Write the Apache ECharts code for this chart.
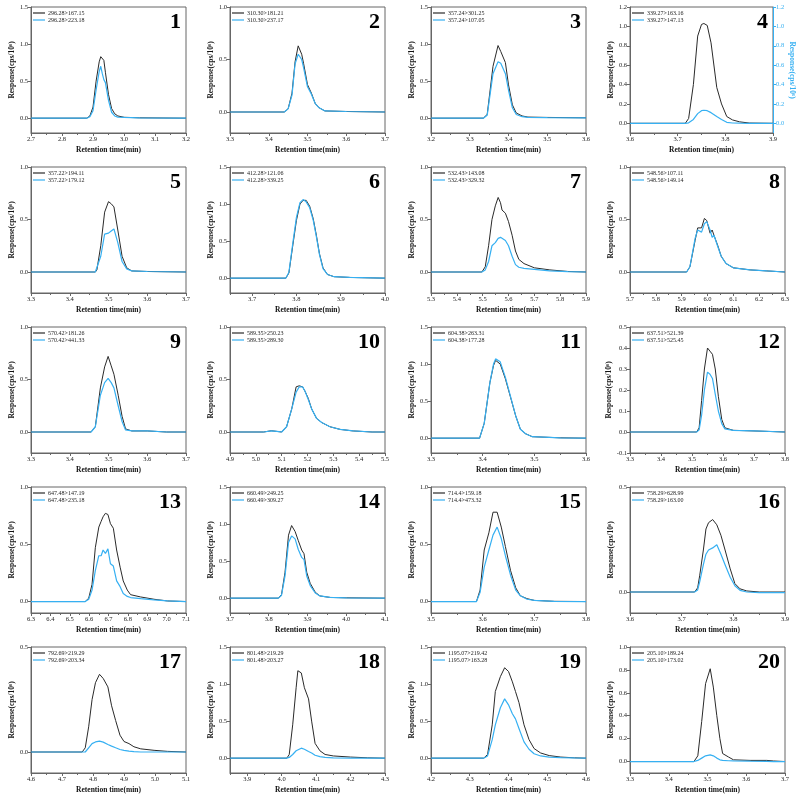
<!DOCTYPE html>
<html>
<head>
<meta charset="utf-8">
<script src="https://cdn.jsdelivr.net/npm/echarts@6/dist/echarts.min.js"></script>
<style>html,body{margin:0;background:#fff}#main{width:799px;height:799px}</style>
</head>
<body>
<div id="main"></div>
<script>
// MRM transitions (legend text) for each of the 20 compounds
var ionNamesA = ['296.28>167.15','310.30>181.21','357.24>301.25','339.27>163.16','357.22>194.11','412.28>121.06','532.43>143.08','548.56>107.11','570.42>181.26','589.35>250.23','604.38>263.31','637.51>521.39','647.48>147.19','660.49>249.25','714.4>159.18','758.29>628.99','792.69>219.29','801.48>219.29','1195.07>219.42','205.10>189.24'];
var ionNamesB = ['296.28>223.18','310.30>237.17','357.24>107.05','339.27>147.13','357.22>179.12','412.28>339.25','532.43>329.32','548.56>149.14','570.42>441.33','589.35>289.30','604.38>177.28','637.51>525.45','647.48>235.18','660.49>309.27','714.4>473.32','758.29>163.00','792.69>203.34','801.48>203.27','1195.07>163.28','205.10>173.02'];

// axis ranges
var xMins = [2.7,3.3,3.2,3.6,3.3,3.65,5.3,5.7,3.3,4.9,3.3,3.3,6.3,3.7,3.5,3.6,4.6,3.85,4.2,3.3];
var xMaxs = [3.2,3.7,3.6,3.9,3.7,4.0,5.9,6.3,3.7,5.5,3.6,3.8,7.1,4.1,3.8,3.9,5.1,4.3,4.6,3.7];
var yMins = [-0.2,-0.2,-0.2,-0.1,-0.2,-0.2,-0.2,-0.2,-0.2,-0.2,-0.2,-0.1,-0.1,-0.2,-0.1,-0.1,-0.1,-0.2,-0.2,-0.1];
var yMaxs = [1.5,1.0,1.5,1.2,1.0,1.5,1.0,1.0,1.0,1.0,1.5,0.5,1.0,1.5,1.0,0.5,0.5,1.5,1.5,1.0];
var ySteps = [0.5,0.5,0.5,0.2,0.5,0.5,0.5,0.5,0.5,0.5,0.5,0.1,0.5,0.5,0.5,0.5,0.5,0.5,0.5,0.2];

// chromatograms: time (min), ion A response, ion B response (cps/10^6)
var t1 = [2.70,2.88,2.89,2.90,2.91,2.92,2.925,2.93,2.935,2.94,2.95,2.96,2.97,2.98,3.00,3.05,3.20];
var a1 = [0,0,0.03,0.15,0.5,0.76,0.83,0.84,0.78,0.62,0.32,0.13,0.06,0.03,0.012,0.005,0];
var b1 = [0,0,0.02,0.1,0.38,0.63,0.70,0.60,0.52,0.48,0.24,0.08,0.03,0.015,0.01,0.005,0];

var t2 = [3.30,3.44,3.45,3.46,3.468,3.476,3.485,3.49,3.50,3.51,3.52,3.53,3.545,3.60,3.70];
var a2 = [0,0,0.03,0.18,0.48,0.63,0.55,0.46,0.26,0.18,0.08,0.04,0.01,0.005,0];
var b2 = [0,0,0.03,0.16,0.46,0.55,0.5,0.42,0.24,0.17,0.08,0.04,0.01,0.005,0];

var t3 = [3.20,3.335,3.345,3.36,3.373,3.38,3.392,3.40,3.41,3.42,3.435,3.45,3.50,3.60];
var a3 = [0,0,0.05,0.7,0.98,0.9,0.75,0.45,0.18,0.07,0.03,0.015,0.01,0.005];
var b3 = [0,0,0.04,0.6,0.76,0.74,0.6,0.38,0.14,0.05,0.02,0.01,0.008,0.005];

var t4 = [3.60,3.716,3.723,3.733,3.742,3.75,3.755,3.762,3.77,3.782,3.792,3.803,3.815,3.83,3.85,3.90];
var a4 = [0,0,0.05,0.4,0.9,1.02,1.03,1.01,0.83,0.37,0.2,0.07,0.035,0.015,0.003,0];
var b4 = [0,0,0.005,0.04,0.1,0.13,0.135,0.13,0.11,0.07,0.04,0.01,0.003,0.001,0,0];

var t5 = [3.30,3.466,3.47,3.48,3.49,3.50,3.507,3.514,3.524,3.535,3.547,3.56,3.60,3.70];
var a5 = [0,0,0.02,0.25,0.57,0.67,0.65,0.62,0.4,0.15,0.04,0.01,0.005,0];
var b5 = [0,0,0.01,0.15,0.36,0.37,0.39,0.41,0.28,0.1,0.03,0.01,0.005,0];

var t6 = [3.65,3.776,3.783,3.792,3.80,3.808,3.815,3.822,3.83,3.838,3.845,3.852,3.86,3.87,3.885,3.92,4.0];
var a6 = [0,0,0.07,0.45,0.78,1.0,1.05,1.05,0.97,0.8,0.58,0.33,0.14,0.05,0.02,0.01,0];
var b6 = [0,0,0.08,0.48,0.82,1.02,1.06,1.03,0.95,0.78,0.56,0.32,0.13,0.05,0.02,0.01,0];

var t7 = [5.30,5.497,5.51,5.523,5.536,5.549,5.56,5.569,5.575,5.588,5.60,5.614,5.627,5.64,5.66,5.70,5.76,5.83,5.90];
var a7 = [0,0,0.05,0.25,0.5,0.63,0.71,0.66,0.59,0.56,0.48,0.35,0.2,0.12,0.08,0.04,0.02,0.005,0];
var b7 = [0,0,0.02,0.1,0.25,0.28,0.32,0.33,0.33,0.3,0.25,0.15,0.07,0.045,0.035,0.025,0.01,0.003,0];

var t8 = [5.70,5.919,5.932,5.952,5.962,5.977,5.988,5.997,6.003,6.01,6.018,6.025,6.04,6.053,6.072,6.10,6.165,6.23,6.30];
var a8 = [0,0,0.05,0.3,0.42,0.42,0.51,0.49,0.5,0.37,0.4,0.35,0.25,0.15,0.08,0.04,0.02,0.01,0];
var b8 = [0,0,0.05,0.32,0.4,0.38,0.46,0.48,0.47,0.4,0.33,0.35,0.24,0.15,0.08,0.04,0.02,0.01,0];

var t9 = [3.30,3.455,3.466,3.479,3.49,3.499,3.507,3.514,3.525,3.535,3.544,3.56,3.60,3.65,3.70];
var a9 = [0,0,0.05,0.42,0.62,0.72,0.63,0.55,0.35,0.15,0.03,0.01,0.01,0,0];
var b9 = [0,0,0.05,0.35,0.47,0.51,0.47,0.42,0.25,0.1,0.02,0.01,0.01,0,0];

var t10 = [4.90,5.03,5.06,5.09,5.10,5.119,5.139,5.156,5.168,5.181,5.19,5.203,5.216,5.235,5.255,5.287,5.326,5.377,5.45,5.50];
var a10 = [0,0,0.012,0.003,0,0.05,0.22,0.43,0.44,0.43,0.39,0.32,0.22,0.13,0.09,0.05,0.025,0.01,0,0];
var b10 = [0,0,0.01,0.003,0,0.05,0.22,0.38,0.43,0.43,0.39,0.31,0.22,0.13,0.09,0.05,0.025,0.01,0,0];

var t11 = [3.30,3.394,3.403,3.414,3.421,3.425,3.434,3.444,3.454,3.464,3.473,3.483,3.496,3.55,3.60];
var a11 = [0,0,0.2,0.75,0.98,1.05,1.0,0.8,0.55,0.3,0.12,0.06,0.02,0.005,0];
var b11 = [0,0,0.2,0.75,1.0,1.07,1.03,0.82,0.56,0.3,0.12,0.06,0.02,0.005,0];

var t12 = [3.30,3.515,3.523,3.531,3.54,3.55,3.558,3.566,3.575,3.585,3.596,3.606,3.633,3.70,3.80];
var a12 = [0,0,0.02,0.15,0.3,0.4,0.385,0.37,0.3,0.17,0.06,0.02,0.008,0.005,0];
var b12 = [0,0,0.01,0.08,0.2,0.285,0.275,0.255,0.18,0.1,0.04,0.015,0.008,0.005,0];

var t13 = [6.30,6.58,6.598,6.615,6.632,6.65,6.662,6.672,6.684,6.697,6.71,6.725,6.742,6.76,6.776,6.797,6.814,6.866,6.935,7.005,7.10];
var a13 = [0,0,0.03,0.15,0.47,0.65,0.7,0.74,0.77,0.76,0.68,0.64,0.45,0.3,0.18,0.1,0.06,0.04,0.02,0.005,0];
var b13 = [0,0,0.02,0.1,0.27,0.4,0.4,0.45,0.42,0.46,0.33,0.31,0.18,0.13,0.07,0.045,0.035,0.025,0.015,0.005,0];

var t14 = [3.70,3.825,3.833,3.842,3.851,3.859,3.868,3.876,3.885,3.891,3.898,3.907,3.92,3.932,3.958,4.00,4.10];
var a14 = [0,0,0.05,0.35,0.85,0.98,0.9,0.78,0.65,0.6,0.35,0.2,0.08,0.03,0.01,0.005,0];
var b14 = [0,0,0.04,0.3,0.75,0.84,0.8,0.66,0.55,0.52,0.3,0.17,0.07,0.03,0.01,0.005,0];

var t15 = [3.50,3.588,3.595,3.603,3.612,3.62,3.628,3.636,3.644,3.654,3.664,3.673,3.686,3.70,3.738,3.80];
var a15 = [0,0,0.1,0.45,0.6,0.78,0.78,0.65,0.48,0.27,0.12,0.05,0.025,0.01,0.002,0];
var b15 = [0,0,0.08,0.3,0.45,0.58,0.65,0.55,0.4,0.23,0.1,0.05,0.02,0.01,0.002,0];

var t16 = [3.60,3.725,3.731,3.735,3.742,3.747,3.752,3.76,3.768,3.776,3.784,3.794,3.803,3.813,3.826,3.85,3.90];
var a16 = [0,0,0.02,0.08,0.2,0.3,0.33,0.345,0.32,0.27,0.2,0.11,0.04,0.015,0.005,0,0];
var b16 = [0,0,0.01,0.05,0.13,0.18,0.2,0.21,0.225,0.18,0.13,0.07,0.03,0.008,0,-0.003,-0.003];

var t17 = [4.60,4.765,4.775,4.786,4.797,4.808,4.821,4.833,4.848,4.86,4.873,4.887,4.90,4.916,4.932,4.954,4.997,5.04,5.10];
var a17 = [0,0,0.02,0.12,0.25,0.33,0.37,0.35,0.31,0.22,0.15,0.08,0.05,0.04,0.025,0.015,0.008,0.003,0];
var b17 = [0,0,0,0.02,0.04,0.048,0.052,0.047,0.036,0.028,0.02,0.012,0.008,0.004,0.002,0,0,0,0];

var t18 = [3.85,4.015,4.022,4.032,4.042,4.047,4.057,4.066,4.078,4.087,4.097,4.111,4.126,4.15,4.20,4.25,4.30];
var a18 = [0,0,0.05,0.45,0.95,1.18,1.15,0.95,0.8,0.5,0.2,0.1,0.05,0.03,0.015,0.005,0];
var b18 = [0,0,0.01,0.05,0.1,0.12,0.135,0.12,0.09,0.07,0.04,0.02,0.01,0.005,0.002,0,0];

var t19 = [4.20,4.336,4.346,4.358,4.366,4.379,4.39,4.40,4.41,4.418,4.427,4.44,4.453,4.466,4.483,4.505,4.535,4.57,4.60];
var a19 = [0,0,0.05,0.45,0.9,1.1,1.22,1.17,1.03,0.9,0.75,0.45,0.25,0.13,0.07,0.035,0.015,0.005,0];
var b19 = [0,0,0.03,0.25,0.45,0.68,0.8,0.72,0.6,0.53,0.4,0.22,0.12,0.06,0.03,0.015,0.008,0.003,0];

var t20 = [3.30,3.465,3.475,3.485,3.495,3.507,3.515,3.524,3.532,3.539,3.554,3.567,3.61,3.653,3.67,3.70];
var a20 = [0,0,0.05,0.35,0.68,0.81,0.65,0.4,0.2,0.07,0.04,0.015,0.01,0.01,0.005,0];
var b20 = [0,0,0.01,0.03,0.05,0.058,0.05,0.03,0.015,0.01,0.007,0.005,0.003,0.002,0,0];

var times = [t1,t2,t3,t4,t5,t6,t7,t8,t9,t10,t11,t12,t13,t14,t15,t16,t17,t18,t19,t20];
var ionA = [a1,a2,a3,a4,a5,a6,a7,a8,a9,a10,a11,a12,a13,a14,a15,a16,a17,a18,a19,a20];
var ionB = [b1,b2,b3,b4,b5,b6,b7,b8,b9,b10,b11,b12,b13,b14,b15,b16,b17,b18,b19,b20];

!function () {
  var FONT = '"Liberation Serif", "Times New Roman", serif';
  var BLACK = '#2a2a2a', BLUE = '#36b0f2', AXIS = '#666';

  function stepValues(min, max, step, offset) {
    var out = [];
    var k0 = Math.ceil((min - offset) / step - 1e-6), k1 = Math.floor((max - offset) / step + 1e-6);
    for (var k = k0; k <= k1; k++) out.push(+(k * step + offset).toFixed(4));
    return out;
  }
  function zip(t, v) { return t.map(function (x, j) { return [x, v[j]]; }); }
  function fmt1(v) { return v.toFixed(1); }

  var colLeft = [31, 230, 431, 630];
  var grid = [], xAxis = [], yAxis = [], series = [], legend = [], graphic = [];

  for (var i = 0; i < 20; i++) {
    var row = Math.floor(i / 4), col = i % 4;
    var gLeft = colLeft[col], gTop = 7 + 160 * row;
    var gWidth = i === 3 ? 143 : 155, gHeight = 126;
    grid.push({left: gLeft, top: gTop, width: gWidth, height: gHeight, show: true, borderColor: AXIS, borderWidth: 1});

    var xMajor = stepValues(xMins[i], xMaxs[i], 0.1, 0);
    var xMinor = stepValues(xMins[i], xMaxs[i], 0.1, 0.05);
    var yTicks = stepValues(yMins[i], yMaxs[i], ySteps[i], 0);

    var xi = xAxis.length;
    xAxis.push({
      type: 'value', gridIndex: i, min: xMins[i], max: xMaxs[i], position: 'bottom',
      axisLine: {show: true, onZero: false, lineStyle: {color: AXIS, width: 1}},
      axisTick: {show: true, length: 3, customValues: xMajor, lineStyle: {color: AXIS}},
      axisLabel: {customValues: xMajor, formatter: fmt1, fontSize: 6.5, color: '#222', fontFamily: FONT, margin: 3},
      splitLine: {show: false},
      name: 'Retention time(min)', nameLocation: 'middle', nameGap: 13,
      nameTextStyle: {fontWeight: 'bold', fontSize: 7.5, fontFamily: FONT, color: '#111'}
    });
    // minor ticks
    xAxis.push({
      type: 'value', gridIndex: i, min: xMins[i], max: xMaxs[i], position: 'bottom',
      axisLine: {show: false, onZero: false}, axisLabel: {show: false}, splitLine: {show: false},
      axisTick: {show: true, length: 2, customValues: xMinor, lineStyle: {color: AXIS}}
    });

    var yLeft = yAxis.length;
    yAxis.push({
      type: 'value', gridIndex: i, min: yMins[i], max: yMaxs[i], position: 'left',
      axisLine: {show: true, onZero: false, lineStyle: {color: AXIS, width: 1}},
      axisTick: {show: true, length: 3, customValues: yTicks, lineStyle: {color: AXIS}},
      axisLabel: {customValues: yTicks, formatter: fmt1, fontSize: 6.5, color: '#222', fontFamily: FONT, margin: 3},
      splitLine: {show: false},
      name: 'Response(cps/10⁶)', nameLocation: 'middle', nameGap: 12,
      nameTextStyle: {fontWeight: 'bold', fontSize: 7.5, fontFamily: FONT, color: '#111'}
    });
    var yB = yLeft;
    if (i === 3) {
      yB = yAxis.length;
      yAxis.push({
        type: 'value', gridIndex: i, min: yMins[i], max: yMaxs[i], position: 'right',
        axisLine: {show: true, onZero: false, lineStyle: {color: BLUE, width: 1}},
        axisTick: {show: true, length: 3, customValues: yTicks, lineStyle: {color: BLUE}},
        axisLabel: {customValues: yTicks, formatter: fmt1, fontSize: 6.5, color: BLUE, fontFamily: FONT, margin: 3},
        splitLine: {show: false},
        name: 'Response(cps/10⁶)', nameLocation: 'middle', nameGap: 12, nameRotate: -90,
        nameTextStyle: {fontWeight: 'bold', fontSize: 7.5, fontFamily: FONT, color: BLUE}
      });
    }

    series.push({
      type: 'line', name: ionNamesA[i], xAxisIndex: xi, yAxisIndex: yLeft,
      data: zip(times[i], ionA[i]), symbol: 'none', silent: true,
      lineStyle: {color: BLACK, width: 1}, itemStyle: {color: BLACK}
    });
    series.push({
      type: 'line', name: ionNamesB[i], xAxisIndex: xi, yAxisIndex: yB,
      data: zip(times[i], ionB[i]), symbol: 'none', silent: true,
      lineStyle: {color: BLUE, width: 1.2}, itemStyle: {color: BLUE}
    });

    legend.push({
      data: [ionNamesA[i], ionNamesB[i]], left: gLeft + 2, top: gTop + 3, orient: 'vertical',
      icon: 'rect', itemWidth: 12, itemHeight: 1.2, itemGap: 1, selectedMode: false, padding: 0,
      textStyle: {fontSize: 6, fontFamily: FONT, color: '#222', padding: [0, 0, 0, -2]}
    });

    graphic.push({
      type: 'text', x: gLeft + gWidth - 5, y: gTop + 15,
      style: {text: String(i + 1), fontSize: 22, fontWeight: 'bold', fontFamily: FONT, fill: '#000', align: 'right', verticalAlign: 'middle'}
    });
  }

  var chart = echarts.init(document.getElementById('main'));
  chart.setOption({
    animation: false,
    backgroundColor: '#fff',
    grid: grid, xAxis: xAxis, yAxis: yAxis, series: series, legend: legend, graphic: graphic
  });
}();
</script>
</body>
</html>
